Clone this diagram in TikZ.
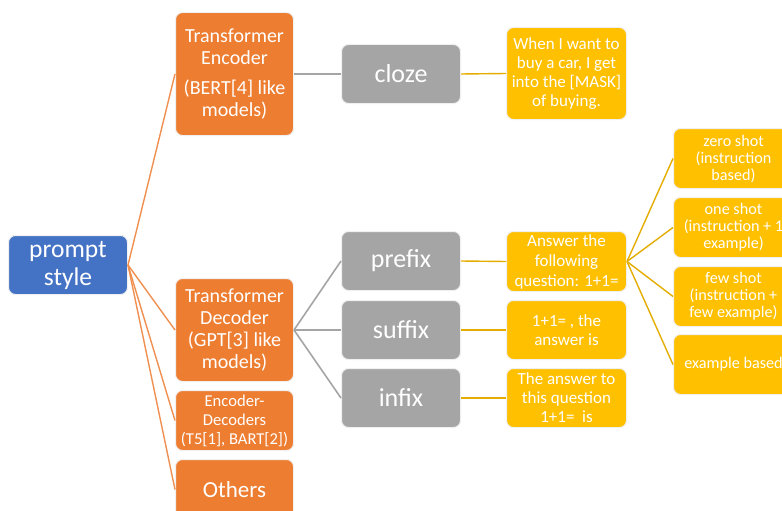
\documentclass[tikz,border=0pt]{standalone}
\usepackage{fontspec}
\setmainfont{Carlito}
\definecolor{cblue}{HTML}{4472C4}
\definecolor{corange}{HTML}{ED7D31}
\definecolor{cgray}{HTML}{A5A5A5}
\definecolor{cyellow}{HTML}{FFC000}
\tikzset{
  box/.style={draw=white!88!gray, line width=1pt, rounded corners=7pt, text=white,
    align=center, inner sep=0pt, anchor=north west},
  bluebox/.style={box, fill=cblue, minimum width=119pt, minimum height=59pt, font={\fontsize{25.5}{28}\selectfont}},
  orbox/.style={box, fill=corange, minimum width=118pt, font={\fontsize{20}{21.7}\selectfont}},
  graybox/.style={box, fill=cgray, minimum width=119pt, minimum height=59pt, font={\fontsize{26}{28}\selectfont}},
  yelbox/.style={box, fill=cyellow, minimum width=120pt, font={\fontsize{17}{19}\selectfont}},
  rbox/.style={box, fill=cyellow, minimum width=120pt, minimum height=60pt, font={\fontsize{16.2}{17}\selectfont}},
  oline/.style={draw=corange!85!white, line width=1.4pt},
  gline/.style={draw=cgray, line width=1.6pt},
  yline/.style={draw=cyellow!90!black, line width=1.4pt},
}
\begin{document}
\begin{tikzpicture}[x=1pt,y=1pt]
\useasboundingbox (0,0) rectangle (782,-511);
\clip (0,0) rectangle (782,-511);
\fill[white] (0,0) rectangle (782,-511);
% level 0
\node[bluebox] (ps) at (8,-235) {prompt\\style};
% level 1
\node[orbox, minimum height=123pt] (te) at (175,-12) {Transformer\\Encoder\\[9pt](BERT[4] like\\models)};
\node[orbox, minimum height=103pt] (td) at (175,-278) {Transformer\\Decoder\\(GPT[3] like\\models)};
\node[orbox, minimum height=60pt, font={\fontsize{16.6}{19}\selectfont}] (ed) at (175,-390) {Encoder-\\Decoders\\(T5[1], BART[2])};
\node[orbox, minimum height=60pt, font={\fontsize{23}{26}\selectfont}] (ot) at (175,-459) {Others};
% level 2
\node[graybox] (cl) at (341,-44) {cloze};
\node[graybox] (pre) at (341,-231) {prefix};
\node[graybox] (suf) at (341,-300) {suffix};
\node[graybox] (inf) at (341,-368) {infix};
% level 3
\node[yelbox, minimum height=92pt] (ex1) at (506,-27) {When I want to\\buy a car, I get\\into the [MASK]\\of buying.};
\node[yelbox, minimum height=60pt, font={\fontsize{17}{20}\selectfont}] (ex2) at (506,-231) {Answer the\\following\\question: 1+1=};
\node[yelbox, minimum height=59pt] (ex3) at (506,-300) {1+1= , the\\answer is};
\node[yelbox, minimum height=59pt] (ex4) at (506,-368) {The answer to\\this question\\1+1=\ \ is};
% level 4
\node[rbox] (zs) at (673,-128) {zero shot\\(instruction\\based)};
\node[rbox] (os) at (673,-197) {one shot\\(instruction + 1\\example)};
\node[rbox] (fs) at (673,-266) {few shot\\(instruction +\\few example)};
\node[rbox] (eb) at (673,-334) {example based};
% connectors
\draw[oline] (ps.east) -- (te.west);
\draw[oline] (ps.east) -- (td.west);
\draw[oline] (ps.east) -- (ed.west);
\draw[oline] (ps.east) -- (ot.west);
\draw[gline] (te.east) -- (cl.west);
\draw[gline] (td.east) -- (pre.west);
\draw[gline] (td.east) -- (suf.west);
\draw[gline] (td.east) -- (inf.west);
\draw[yline] (cl.east) -- (ex1.west);
\draw[yline] (pre.east) -- (ex2.west);
\draw[yline] (suf.east) -- (ex3.west);
\draw[yline] (inf.east) -- (ex4.west);
\draw[yline] (ex2.east) -- (zs.west);
\draw[yline] (ex2.east) -- (os.west);
\draw[yline] (ex2.east) -- (fs.west);
\draw[yline] (ex2.east) -- (eb.west);
\end{tikzpicture}
\end{document}
